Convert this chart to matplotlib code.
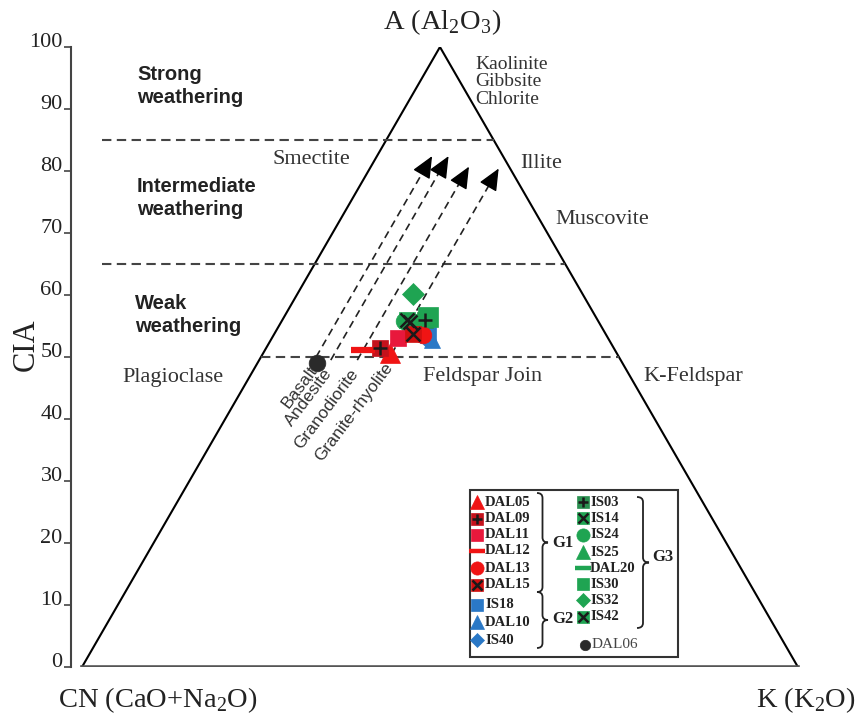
import numpy as np
import matplotlib.pyplot as plt
from matplotlib.patches import Rectangle, PathPatch
from matplotlib.path import Path

plt.rcParams['font.family'] = ['Liberation Serif', 'DejaVu Serif']
plt.rcParams['mathtext.fontset'] = 'custom'
plt.rcParams['mathtext.rm'] = 'Liberation Serif'

# sample compositions: CIA (= A apex share) and K share in the A-CN-K triangle
samples = ['DAL05', 'DAL09', 'DAL11', 'DAL12', 'DAL13', 'DAL15',
           'IS18', 'DAL10', 'IS40',
           'IS03', 'IS14', 'IS24', 'IS25', 'DAL20', 'IS30', 'IS32', 'IS42',
           'DAL06']
cia = [50.6, 51.5, 53.1, 51.1, 53.5, 53.7,
       53.5, 52.7, 53.1,
       56.0, 55.6, 55.8, 54.8, 54.7, 56.5, 60.2, 56.0,
       49.0]
k2o = [17.7, 15.9, 17.6, 13.7, 20.9, 19.4,
       21.6, 22.6, 21.4,
       19.9, 18.0, 17.1, 19.8, 19.1, 20.1, 16.1, 17.4,
       8.3]

# weathering trends of parent rocks (constant K)
trend_names = ['Basalt', 'Andesite', 'Granodiorite', 'Granite-rhyolite']
trend_k = [7.7, 10.0, 13.7, 18.0]
trend_start = [50.0, 49.5, 49.5, 50.5]
trend_end = [82.4, 82.4, 80.7, 80.4]

cia_limits = [50, 65, 85]
yticks = list(range(0, 101, 10))

red = '#f01414'
blue = '#2a78c6'
green = '#1fa452'
style = {
    'DAL05': ('^', red, None, 15, 10),
    'DAL09': ('s', '#c4121c', '+', 12, 9),
    'DAL11': ('s', '#e8183c', None, 12, 9),
    'DAL12': ('_', red, None, 17, 12),
    'DAL13': ('o', red, None, 12, 9.5),
    'DAL15': ('s', '#d01010', 'x', 12, 9),
    'IS18': ('s', blue, None, 12, 9),
    'DAL10': ('^', blue, None, 12, 10),
    'IS40': ('D', blue, None, 8, 7),
    'IS03': ('s', '#2a9050', '+', 12, 9),
    'IS14': ('s', green, 'x', 12, 9),
    'IS24': ('o', green, None, 12, 9.5),
    'IS25': ('^', green, None, 12, 10),
    'DAL20': ('_', green, None, 15, 12),
    'IS30': ('s', green, None, 14, 9),
    'IS32': ('D', green, None, 11, 7.5),
    'IS42': ('s', green, 'x', 12, 9),
    'DAL06': ('o', '#2a2a2a', None, 12, 7.5),
}

S = 6.2  # pixels per unit


def px(x, y):
    return (x - 82) / S, (667 - y) / S


def tern(a, k):
    a = np.asarray(a, float)
    k = np.asarray(k, float)
    return k * 2 / np.sqrt(3) + a / np.sqrt(3), a


def draw_marker(x, y, name, legend=False):
    m, c, over, ms, lms = style[name]
    size = lms if legend else ms
    if m == '_':
        ax.plot(x, y, marker='_', ms=size, mew=4.5 if not legend else 3.2, color=c, zorder=5)
    else:
        ax.plot(x, y, marker=m, ms=size, mfc=c, mec=c, mew=0.5, ls='none', zorder=5)
    if over:
        ax.plot(x, y, marker=over, ms=size * 0.8, mew=1.8, color='#1a1a1a', ls='none', zorder=6)


def brace(x0, yt, yb, w):
    xm = x0 + w / 2
    ym = (yt + yb) / 2
    r = 5
    pts = [(x0, yt), (xm, yt), (xm, yt + r), (xm, ym - r), (xm, ym), (x0 + w, ym),
           (xm, ym), (xm, ym + r), (xm, yb - r), (xm, yb), (x0, yb)]
    codes = [Path.MOVETO, Path.CURVE3, Path.CURVE3, Path.LINETO, Path.CURVE3, Path.CURVE3,
             Path.CURVE3, Path.CURVE3, Path.LINETO, Path.CURVE3, Path.CURVE3]
    path = Path([px(*p) for p in pts], codes)
    ax.add_patch(PathPatch(path, fill=False, lw=1.3, ec='#222222', zorder=5))


fig = plt.figure(figsize=(8.58, 7.16), dpi=100)
ax = fig.add_axes([71 / 858, 49 / 716, (858 - 71) / 858, 620 / 716])
ax.set_xlim(px(71, 0)[0], px(858, 0)[0])
ax.set_ylim(0, 100)

for s in ['top', 'right', 'bottom']:
    ax.spines[s].set_visible(False)
ax.spines['left'].set_color('#444444')
ax.spines['left'].set_linewidth(1.5)
ax.set_xticks([])
ax.set_yticks(yticks)
ax.tick_params(axis='y', length=5, width=1.2, color='#444444', labelsize=16,
               labelcolor='#222222', pad=1)
for lab in ax.get_yticklabels():
    lab.set_va('baseline')
ax.text(*px(26, 345), 'CIA', fontsize=22, color='#222222', rotation=90,
        ha='center', va='center')

# triangle
xl, yl = tern(0, 0)
xa, ya = tern(100, 0)
xk, yk = tern(0, 100)
ax.plot([xl, xa, xk], [yl, ya, yk], color='black', lw=1.5, zorder=2)
ax.plot([xl, xk], [yl, yk], color='#555555', lw=2.6, zorder=2)

# CIA limit lines
for c in cia_limits:
    xr = tern(c, 100 - c)[0]
    if c == 50:
        x0 = tern(c, 0)[0]
    else:
        x0 = px(102, 0)[0]
    ax.plot([x0, xr], [c, c], color='#444444', lw=1.5, ls=(0, (4.5, 2.6)), zorder=2)

# weathering trends
for name, k, a0, a1 in zip(trend_names, trend_k, trend_start, trend_end):
    x0, y0 = tern(a0, k)
    x1, y1 = tern(a1 - 2.0, k)
    x2, y2 = tern(a1, k)
    ax.plot([x0, x1], [y0, y1], color='#222222', lw=1.2, ls=(0, (4.5, 3)), zorder=3)
    ax.annotate('', xy=(x2, y2), xytext=(x1, y1),
                arrowprops=dict(arrowstyle='-|>,head_length=1.35,head_width=0.6',
                                color='black', lw=1, shrinkA=0, shrinkB=0), zorder=3)
    ax.text(x0 - 0.3, y0 - 1.7, name, family='Liberation Sans', fontsize=12.5,
            color='#333333', rotation=53, rotation_mode='anchor', ha='right', va='center')

# samples
order = [6, 7, 8, 9, 10, 11, 12, 13, 14, 15, 16, 0, 1, 2, 3, 4, 5, 17]
xs, ys = tern(cia, k2o)
for i in order:
    draw_marker(xs[i], ys[i], samples[i])

# labels
lab = dict(color='#222222')
ax.text(*px(442, 22), r'A (Al$_2$O$_3$)', fontsize=20.5, ha='center', va='center', **lab)
ax.text(*px(158, 700), r'CN (CaO+Na$_2$O)', fontsize=20.5, ha='center', va='center', **lab)
ax.text(*px(806, 700), r'K (K$_2$O)', fontsize=20.5, ha='center', va='center', **lab)

bold = dict(family='Liberation Sans', fontweight='bold', fontsize=14.5, color='#222222',
            ha='left', va='center', linespacing=1.3)
ax.text(*px(137, 86), 'Strong\nweathering', **bold)
ax.text(*px(137, 198), 'Intermediate\nweathering', **bold)
ax.text(*px(135, 315), 'Weak\nweathering', **bold)

minl = dict(fontsize=16, color='#333333', ha='left', va='center')
ax.text(*px(475, 82), 'Kaolinite\nGibbsite\nChlorite', fontsize=14, color='#333333',
        ha='left', va='center', linespacing=1.05)
ax.text(*px(273, 160), 'Smectite', **minl)
ax.text(*px(520, 163), 'Illite', **minl)
ax.text(*px(555, 220), 'Muscovite', **minl)
ax.text(*px(122, 378), 'Plagioclase', **minl)
ax.text(*px(423, 377), 'Feldspar Join', **minl)
ax.text(*px(643, 377), 'K-Feldspar', **minl)

# legend
lx, ly = px(470, 657)
ax.add_patch(Rectangle((lx, ly), (678 - 470) / S, (657 - 490) / S, fill=False,
                       ec='#333333', lw=1.5, zorder=4))
left_col = samples[:9]
left_rows = [502, 519, 535, 551, 568, 585, 605, 622, 640]
right_col = samples[9:17]
right_rows = [502, 518, 535, 552, 568, 584, 600, 617]
for name, r in zip(left_col, left_rows):
    draw_marker(*px(477, r), name, legend=True)
    ax.text(*px(485, r), name, fontsize=10.5, fontweight='bold', color='#222222',
            ha='left', va='center', zorder=6)
for name, r in zip(right_col, right_rows):
    draw_marker(*px(583, r), name, legend=True)
    ax.text(*px(590, r), name, fontsize=10.5, fontweight='bold', color='#222222',
            ha='left', va='center', zorder=6)
draw_marker(*px(585, 645), 'DAL06', legend=True)
ax.text(*px(592, 645), 'DAL06', fontsize=11, color='#444444', ha='left', va='center', zorder=6)

brace(537, 493, 592, 11)
brace(537, 592, 648, 11)
brace(637, 497, 628, 12)
gl = dict(fontsize=12, fontweight='bold', color='#222222', ha='left', va='center', zorder=6)
ax.text(*px(552, 543), 'G1', **gl)
ax.text(*px(552, 619), 'G2', **gl)
ax.text(*px(652, 557), 'G3', **gl)

fig.savefig('out.png', dpi=100)
